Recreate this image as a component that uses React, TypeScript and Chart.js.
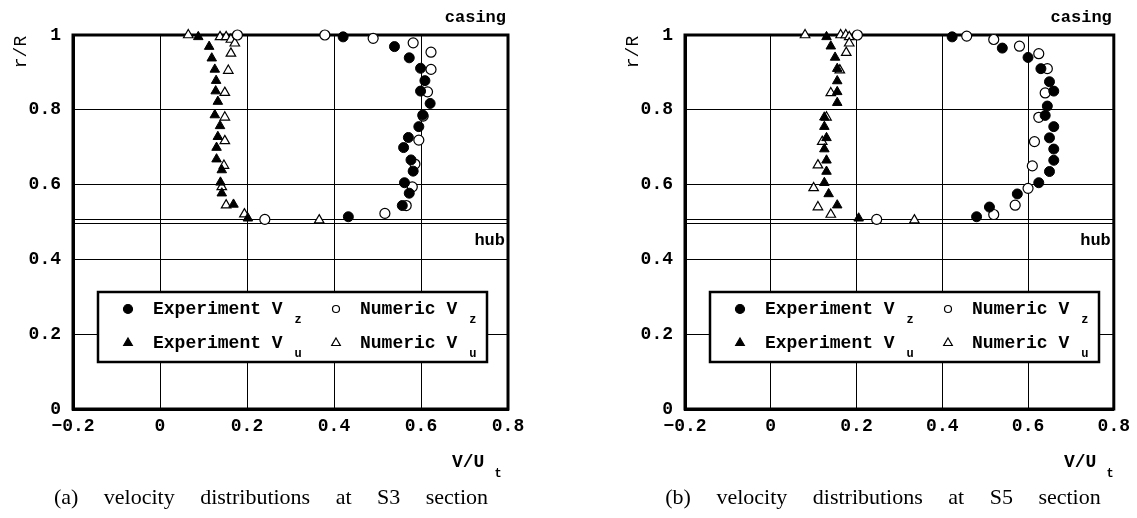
import React, { useEffect, useRef } from 'react';
import { Chart, registerables } from 'chart.js';
Chart.register(...registerables);

// ---- axes ----
const X_MIN = -0.2;
const X_MAX = 0.8;
const X_STEP = 0.2;
const Y_MIN = 0;
const Y_MAX = 1;
const Y_STEP = 0.2;
const HUB_LINES = [0.507, 0.498];

// ---- S3 section ----
const s3ExpVzX = [0.421, 0.539, 0.573, 0.599, 0.609, 0.599, 0.621, 0.604, 0.595, 0.571, 0.560, 0.577, 0.582, 0.562, 0.573, 0.557, 0.433];
const s3ExpVzR = [0.995, 0.969, 0.939, 0.911, 0.878, 0.850, 0.817, 0.786, 0.755, 0.726, 0.699, 0.666, 0.636, 0.605, 0.577, 0.544, 0.514];
const s3NumVzX = [0.178, 0.379, 0.490, 0.582, 0.623, 0.623, 0.615, 0.605, 0.595, 0.586, 0.580, 0.566, 0.517, 0.241];
const s3NumVzR = [1.0, 1.0, 0.991, 0.979, 0.954, 0.908, 0.848, 0.783, 0.719, 0.655, 0.594, 0.544, 0.523, 0.507];
const s3ExpVuX = [0.088, 0.113, 0.119, 0.126, 0.129, 0.128, 0.133, 0.126, 0.138, 0.133, 0.130, 0.130, 0.142, 0.139, 0.142, 0.169, 0.202];
const s3ExpVuR = [0.995, 0.969, 0.938, 0.908, 0.878, 0.850, 0.822, 0.786, 0.757, 0.728, 0.699, 0.668, 0.639, 0.606, 0.577, 0.547, 0.510];
const s3NumVuX = [0.065, 0.138, 0.152, 0.163, 0.172, 0.163, 0.157, 0.149, 0.149, 0.149, 0.147, 0.142, 0.152, 0.194, 0.366];
const s3NumVuR = [1.0, 0.995, 0.995, 0.988, 0.978, 0.951, 0.905, 0.846, 0.780, 0.717, 0.651, 0.594, 0.545, 0.521, 0.505];

// ---- S5 section ----
const s5ExpVzX = [0.423, 0.540, 0.600, 0.630, 0.650, 0.660, 0.645, 0.640, 0.660, 0.650, 0.660, 0.660, 0.650, 0.625, 0.575, 0.510, 0.480];
const s5ExpVzR = [0.995, 0.965, 0.940, 0.910, 0.875, 0.850, 0.810, 0.785, 0.755, 0.725, 0.695, 0.665, 0.635, 0.605, 0.575, 0.540, 0.514];
const s5NumVzX = [0.202, 0.457, 0.520, 0.580, 0.625, 0.645, 0.640, 0.625, 0.615, 0.610, 0.600, 0.570, 0.520, 0.247];
const s5NumVzR = [1.0, 0.997, 0.988, 0.970, 0.950, 0.910, 0.845, 0.780, 0.715, 0.650, 0.590, 0.545, 0.520, 0.507];
const s5ExpVuX = [0.130, 0.140, 0.150, 0.155, 0.155, 0.155, 0.155, 0.125, 0.125, 0.130, 0.125, 0.130, 0.130, 0.125, 0.135, 0.155, 0.205];
const s5ExpVuR = [0.995, 0.970, 0.940, 0.910, 0.877, 0.848, 0.819, 0.780, 0.755, 0.725, 0.695, 0.665, 0.635, 0.605, 0.575, 0.545, 0.510];
const s5NumVuX = [0.080, 0.163, 0.175, 0.183, 0.183, 0.176, 0.161, 0.140, 0.130, 0.120, 0.110, 0.100, 0.110, 0.140, 0.335];
const s5NumVuR = [1.0, 1.0, 1.0, 0.995, 0.978, 0.953, 0.906, 0.845, 0.780, 0.715, 0.652, 0.591, 0.540, 0.520, 0.505];

// ---- legend text ----
const legendNames = ['Experiment V', 'Numeric V', 'Experiment V', 'Numeric V'];
const legendSubs = ['z', 'z', 'u', 'u'];
const captions = ['(a) velocity distributions at S3 section', '(b) velocity distributions at S5 section'];

const MONO = '"Liberation Mono", "DejaVu Sans Mono", monospace';

const zip = (xs: number[], ys: number[]) => xs.map((x, i) => ({ x, y: ys[i] }));

function fmtX(v: number) {
  const n = Math.round(v * 10) / 10;
  if (n === 0) return '0';
  return n.toFixed(1).replace('-', '\u2212');
}
function fmtY(v: number) {
  const n = Math.round(v * 10) / 10;
  if (n === 0) return '0';
  if (n === 1) return '1';
  return n.toFixed(1);
}

function drawMarker(ctx: CanvasRenderingContext2D, kind: string, filled: boolean, x: number, y: number, r: number) {
  ctx.beginPath();
  if (kind === 'circle') {
    ctx.arc(x, y, r, 0, Math.PI * 2);
  } else {
    const h = r * 1.5;
    const half = (r * Math.sqrt(3)) / 2;
    ctx.moveTo(x, y - h * 0.6667);
    ctx.lineTo(x + half, y + h * 0.3333);
    ctx.lineTo(x - half, y + h * 0.3333);
    ctx.closePath();
  }
  ctx.fillStyle = filled ? '#000' : '#fff';
  ctx.fill();
  ctx.lineWidth = 1.2;
  ctx.strokeStyle = '#000';
  ctx.stroke();
}

function makePlugin() {
  return {
    id: 'paperFrame',
    beforeDatasetsDraw(chart: any) {
      const { ctx, chartArea: a, scales } = chart;
      ctx.save();
      ctx.strokeStyle = '#000';
      ctx.lineWidth = 1;
      HUB_LINES.forEach((r) => {
        const y = Math.round(scales.y.getPixelForValue(r)) + 0.5;
        ctx.beginPath();
        ctx.moveTo(a.left, y);
        ctx.lineTo(a.right, y);
        ctx.stroke();
      });
      ctx.lineWidth = 3;
      ctx.strokeRect(a.left, a.top, a.right - a.left, a.bottom - a.top);
      ctx.restore();
    },
    afterDraw(chart: any) {
      const { ctx, chartArea: a, scales } = chart;
      ctx.save();
      // legend box
      const L = a.left + 25;
      const T = a.top + 257;
      const W = 389;
      const H = 70;
      ctx.fillStyle = '#fff';
      ctx.fillRect(L, T, W, H);
      ctx.lineWidth = 2.5;
      ctx.strokeStyle = '#000';
      ctx.strokeRect(L, T, W, H);
      const rows = [T + 17, T + 51];
      const cols = [
        { m: L + 30, t: L + 55 },
        { m: L + 238, t: L + 262 },
      ];
      const kinds = ['circle', 'circle', 'triangle', 'triangle'];
      const fills = [true, false, true, false];
      for (let i = 0; i < 4; i++) {
        const c = cols[i % 2];
        const y = rows[Math.floor(i / 2)];
        const rad = kinds[i] === 'circle' ? (fills[i] ? 4.5 : 3.5) : 5;
        drawMarker(ctx, kinds[i], fills[i], c.m, y, rad);
        ctx.fillStyle = '#000';
        ctx.textBaseline = 'middle';
        ctx.textAlign = 'left';
        ctx.font = `bold 18px ${MONO}`;
        ctx.fillText(legendNames[i], c.t, y);
        const w = ctx.measureText(legendNames[i]).width;
        ctx.font = `bold 12px ${MONO}`;
        ctx.fillText(legendSubs[i], c.t + w + 12, y + 11);
      }
      // casing / hub labels
      ctx.fillStyle = '#000';
      ctx.font = `bold 17px ${MONO}`;
      ctx.textAlign = 'right';
      ctx.textBaseline = 'middle';
      ctx.fillText('casing', a.right - 2, a.top - 17);
      const hubY = scales.y.getPixelForValue(HUB_LINES[1]);
      ctx.fillText('hub', a.right - 3, hubY + 18);
      // axis titles
      ctx.font = `bold 18px ${MONO}`;
      ctx.textAlign = 'left';
      ctx.fillText('V/U', a.left + 379, a.bottom + 53);
      const vw = ctx.measureText('V/U').width;
      ctx.font = `bold 12px ${MONO}`;
      ctx.fillText('t', a.left + 379 + vw + 10, a.bottom + 65);
      ctx.translate(21, a.top + 17);
      ctx.rotate(-Math.PI / 2);
      ctx.font = `18px ${MONO}`;
      ctx.textAlign = 'center';
      ctx.fillText('r/R', 0, 0);
      ctx.restore();
    },
  };
}

function VelocityChart(props: { sets: { x: number[]; y: number[] }[]; left: number; width: number; caption: string }) {
  const ref = useRef<HTMLCanvasElement | null>(null);
  useEffect(() => {
    if (!ref.current) return;
    const [ez, nz, eu, nu] = props.sets;
    const chart = new Chart(ref.current, {
      type: 'scatter',
      data: {
        datasets: [
          { label: 'Experiment Vz', data: zip(ez.x, ez.y), pointStyle: 'circle', pointRadius: 5, backgroundColor: '#000', borderColor: '#000', borderWidth: 1, clip: false },
          { label: 'Numeric Vz', data: zip(nz.x, nz.y), pointStyle: 'circle', pointRadius: 5, backgroundColor: '#fff', borderColor: '#000', borderWidth: 1.2, clip: false },
          { label: 'Experiment Vu', data: zip(eu.x, eu.y), pointStyle: 'triangle', pointRadius: 5.5, backgroundColor: '#000', borderColor: '#000', borderWidth: 1, clip: false },
          { label: 'Numeric Vu', data: zip(nu.x, nu.y), pointStyle: 'triangle', pointRadius: 5.5, backgroundColor: '#fff', borderColor: '#000', borderWidth: 1.2, clip: false },
        ] as any,
      },
      options: {
        animation: false,
        responsive: false,
        devicePixelRatio: 1,
        layout: { padding: { top: 35, right: props.width - 508, left: 0, bottom: 0 } },
        plugins: { legend: { display: false }, tooltip: { enabled: false } },
        scales: {
          x: {
            type: 'linear',
            min: X_MIN,
            max: X_MAX,
            afterFit: (s: any) => { s.height = 518 - 409; },
            ticks: { stepSize: X_STEP, color: '#000', padding: 7, font: { family: MONO, size: 18, weight: 'bold' }, callback: (v: any) => fmtX(Number(v)), maxRotation: 0 },
            grid: { color: '#000', lineWidth: 1, drawTicks: false },
            border: { display: true, color: '#000', width: 3 },
          },
          y: {
            type: 'linear',
            min: Y_MIN,
            max: Y_MAX,
            afterFit: (s: any) => { s.width = 73; },
            ticks: { stepSize: Y_STEP, color: '#000', padding: 12, font: { family: MONO, size: 18, weight: 'bold' }, callback: (v: any) => fmtY(Number(v)) },
            grid: { color: '#000', lineWidth: 1, drawTicks: false },
            border: { display: true, color: '#000', width: 3 },
          },
        },
      } as any,
      plugins: [makePlugin() as any],
    });
    return () => chart.destroy();
  }, []);
  return (
    <>
      <canvas ref={ref} width={props.width} height={518} style={{ position: 'absolute', left: props.left, top: 0, width: props.width, height: 518 }} />
      <div style={{ position: 'absolute', left: props.left, top: 484, width: 542, textAlign: 'center', fontFamily: '"Liberation Serif", "Times New Roman", serif', fontSize: 22, lineHeight: '26px', wordSpacing: 20, color: '#000', whiteSpace: 'nowrap' }}>
        {props.caption}
      </div>
    </>
  );
}

export default function App() {
  const s3 = [
    { x: s3ExpVzX, y: s3ExpVzR },
    { x: s3NumVzX, y: s3NumVzR },
    { x: s3ExpVuX, y: s3ExpVuR },
    { x: s3NumVuX, y: s3NumVuR },
  ];
  const s5 = [
    { x: s5ExpVzX, y: s5ExpVzR },
    { x: s5NumVzX, y: s5NumVzR },
    { x: s5ExpVuX, y: s5ExpVuR },
    { x: s5NumVuX, y: s5NumVuR },
  ];
  return (
    <div style={{ position: 'absolute', left: 0, top: 0, width: 1137, height: 518, background: '#fff', overflow: 'hidden' }}>
      <VelocityChart sets={s3} left={0} width={560} caption={captions[0]} />
      <VelocityChart sets={s5} left={612} width={525} caption={captions[1]} />
    </div>
  );
}
